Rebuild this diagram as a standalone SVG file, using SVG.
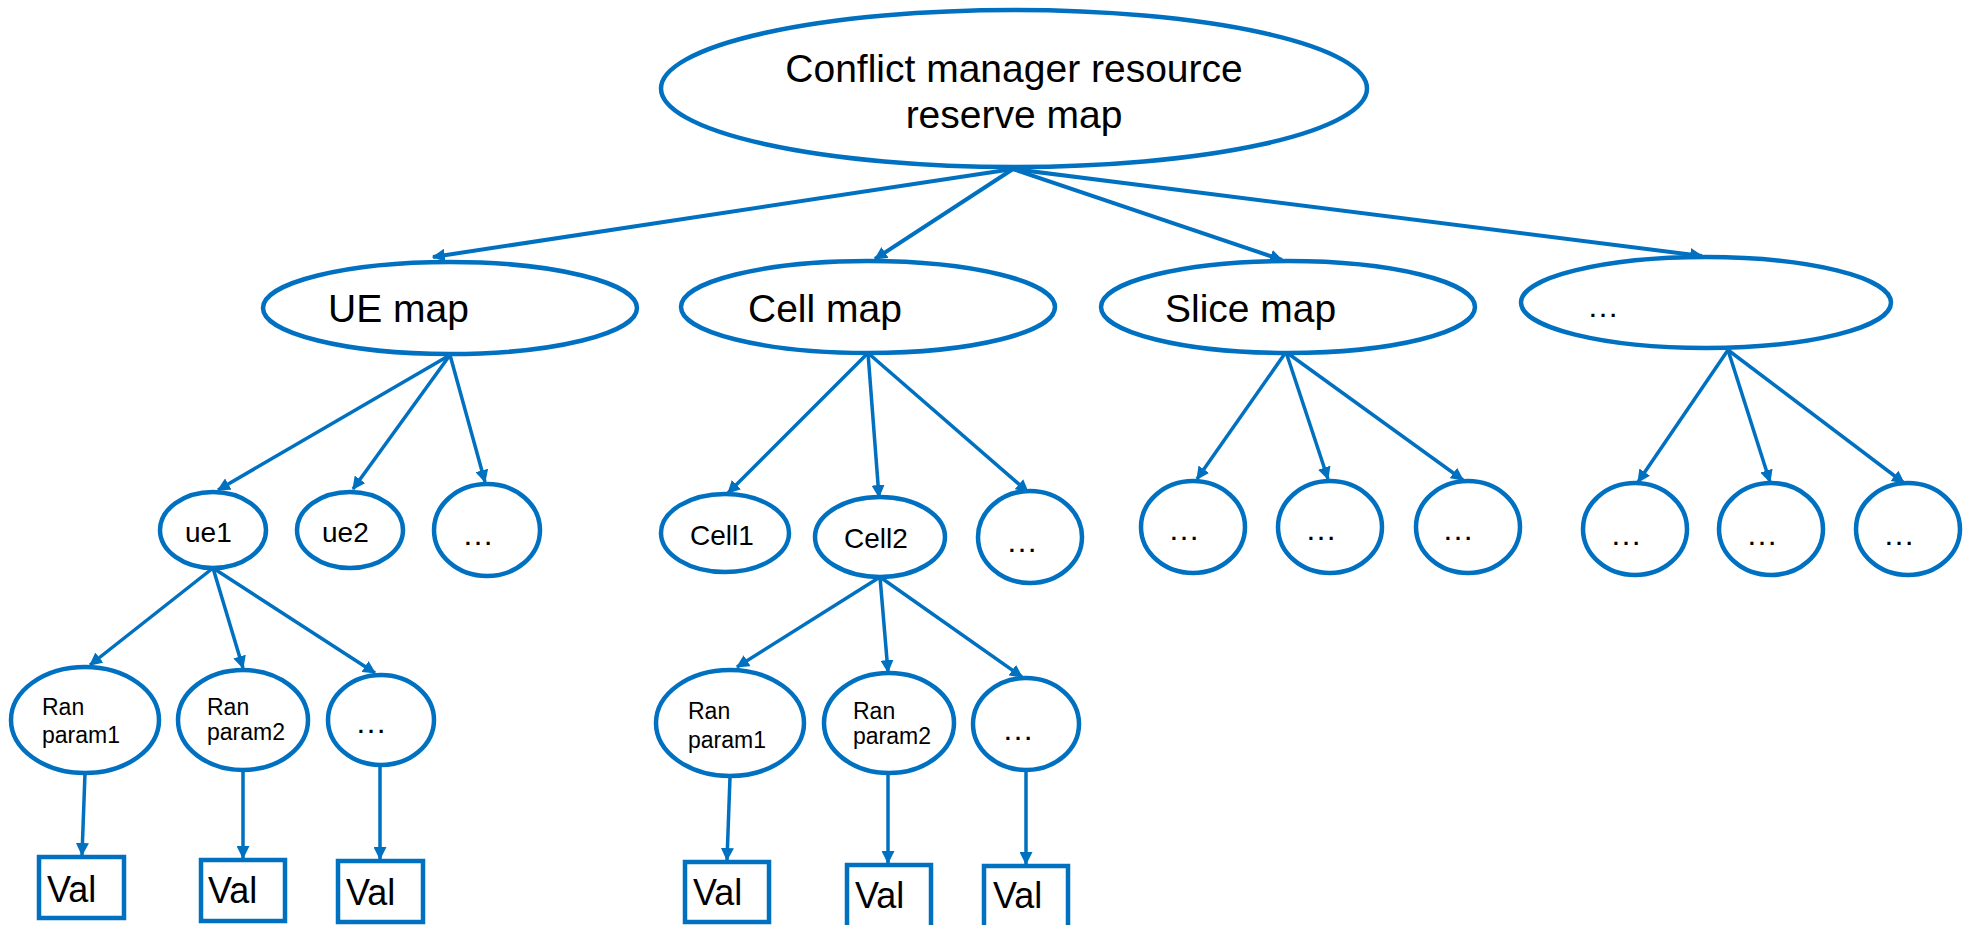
<svg xmlns="http://www.w3.org/2000/svg" width="1973" height="925" viewBox="0 0 1973 925">
<style>
.n{fill:#fff;stroke:#0070C0;stroke-width:4.5}
.b{fill:#fff;stroke:#0070C0;stroke-width:4.5}
.c line{stroke:#0070C0;stroke-width:3.5;marker-end:url(#ah)}
.c .t{stroke-width:4}
text{font-family:"Liberation Sans",Arial,sans-serif;fill:#000}
.f1{font-size:39px}
.f2{font-size:28px}
.f3{font-size:23px}
.fv{font-size:36px}
.fd{font-size:32px}
</style>
<defs>
<marker id="ah" viewBox="0 0 12 12" refX="11" refY="6" markerWidth="13" markerHeight="13" markerUnits="userSpaceOnUse" orient="auto">
<path d="M0,0 L12,6 L0,12 z" fill="#0070C0"/>
</marker>
</defs>
<rect width="1973" height="925" fill="#fff"/>
<g id="connectors" class="c">
<line class="t" x1="1013" y1="169" x2="433" y2="257"/>
<line class="t" x1="1013" y1="169" x2="875" y2="259"/>
<line class="t" x1="1013" y1="169" x2="1282" y2="260"/>
<line class="t" x1="1013" y1="169" x2="1702" y2="256"/>
<line x1="450" y1="355" x2="218" y2="490"/>
<line x1="450" y1="355" x2="353" y2="489"/>
<line x1="450" y1="355" x2="485" y2="482"/>
<line x1="868" y1="353" x2="728" y2="493"/>
<line x1="868" y1="353" x2="879" y2="497"/>
<line x1="868" y1="353" x2="1028" y2="492"/>
<line x1="1286" y1="352" x2="1197" y2="479"/>
<line x1="1286" y1="352" x2="1328" y2="479"/>
<line x1="1286" y1="352" x2="1463" y2="480"/>
<line x1="1728" y1="350" x2="1638" y2="482"/>
<line x1="1728" y1="350" x2="1770" y2="482"/>
<line x1="1728" y1="350" x2="1904" y2="483"/>
<line x1="213" y1="568" x2="90" y2="665"/>
<line x1="213" y1="568" x2="243" y2="668"/>
<line x1="213" y1="568" x2="375" y2="673"/>
<line x1="880" y1="577" x2="737" y2="667"/>
<line x1="880" y1="577" x2="888" y2="672"/>
<line x1="880" y1="577" x2="1022" y2="677"/>
<line x1="85" y1="773" x2="82" y2="855"/>
<line x1="243" y1="770" x2="243" y2="858"/>
<line x1="380" y1="765" x2="380" y2="859"/>
<line x1="730" y1="777" x2="727" y2="860"/>
<line x1="888" y1="773" x2="888" y2="863"/>
<line x1="1026" y1="770" x2="1026" y2="864"/>
</g>
<g id="root"><ellipse class="n" cx="1014" cy="88.5" rx="353" ry="78.5"/>
<text class="f1" x="1014" y="82" text-anchor="middle">Conflict manager resource</text>
<text class="f1" x="1014" y="128" text-anchor="middle">reserve map</text></g>
<g id="ue-map"><ellipse class="n" cx="450" cy="308" rx="187" ry="46"/><text class="f1" x="328" y="322">UE map</text></g>
<g id="cell-map"><ellipse class="n" cx="868" cy="307" rx="187" ry="46"/><text class="f1" x="748" y="322">Cell map</text></g>
<g id="slice-map"><ellipse class="n" cx="1288" cy="307" rx="187" ry="46"/><text class="f1" x="1165" y="322">Slice map</text></g>
<g id="other-map"><ellipse class="n" cx="1706" cy="302.5" rx="185" ry="45.5"/><text class="fd" x="1587" y="317">…</text></g>
<g id="ue1"><ellipse class="n" cx="213" cy="530" rx="53" ry="38"/><text class="f2" x="185" y="542">ue1</text></g>
<g id="ue2"><ellipse class="n" cx="350" cy="530" rx="53" ry="38"/><text class="f2" x="322" y="542">ue2</text></g>
<g id="ue-more"><ellipse class="n" cx="487" cy="530" rx="53" ry="46"/><text class="fd" x="462" y="545">…</text></g>
<g id="cell1"><ellipse class="n" cx="725" cy="533" rx="64" ry="39"/><text class="f2" x="690" y="545">Cell1</text></g>
<g id="cell2"><ellipse class="n" cx="880" cy="537" rx="65" ry="40"/><text class="f2" x="844" y="548">Cell2</text></g>
<g id="cell-more"><ellipse class="n" cx="1030" cy="537" rx="52" ry="46"/><text class="fd" x="1006" y="552">…</text></g>
<g id="slice-c1"><ellipse class="n" cx="1193" cy="527" rx="52" ry="46"/><text class="fd" x="1168" y="540">…</text></g>
<g id="slice-c2"><ellipse class="n" cx="1330" cy="527" rx="52" ry="46"/><text class="fd" x="1305" y="540">…</text></g>
<g id="slice-c3"><ellipse class="n" cx="1468" cy="527" rx="52" ry="46"/><text class="fd" x="1442" y="540">…</text></g>
<g id="other-c1"><ellipse class="n" cx="1635" cy="529" rx="52" ry="46"/><text class="fd" x="1610" y="545">…</text></g>
<g id="other-c2"><ellipse class="n" cx="1771" cy="529" rx="52" ry="46"/><text class="fd" x="1746" y="545">…</text></g>
<g id="other-c3"><ellipse class="n" cx="1908" cy="529" rx="52" ry="46"/><text class="fd" x="1883" y="545">…</text></g>
<g id="ue-ran1"><ellipse class="n" cx="85" cy="720" rx="74" ry="53"/><text class="f3" x="42" y="715">Ran</text><text class="f3" x="42" y="743">param1</text></g>
<g id="ue-ran2"><ellipse class="n" cx="243" cy="720" rx="65" ry="50"/><text class="f3" x="207" y="715">Ran</text><text class="f3" x="207" y="740">param2</text></g>
<g id="ue-ran-more"><ellipse class="n" cx="381" cy="720" rx="53" ry="45"/><text class="fd" x="355" y="733">…</text></g>
<g id="cell-ran1"><ellipse class="n" cx="730" cy="723" rx="74" ry="53"/><text class="f3" x="688" y="719">Ran</text><text class="f3" x="688" y="748">param1</text></g>
<g id="cell-ran2"><ellipse class="n" cx="889" cy="723" rx="65" ry="50"/><text class="f3" x="853" y="719">Ran</text><text class="f3" x="853" y="744">param2</text></g>
<g id="cell-ran-more"><ellipse class="n" cx="1026" cy="724" rx="53" ry="46"/><text class="fd" x="1002" y="740">…</text></g>
<g id="ue-val1"><rect class="b" x="39" y="857" width="85" height="61"/><text class="fv" x="47" y="902">Val</text></g>
<g id="ue-val2"><rect class="b" x="201" y="860" width="84" height="61"/><text class="fv" x="208" y="903">Val</text></g>
<g id="ue-val3"><rect class="b" x="338" y="861" width="85" height="61"/><text class="fv" x="346" y="905">Val</text></g>
<g id="cell-val1"><rect class="b" x="685" y="862" width="84" height="60"/><text class="fv" x="693" y="905">Val</text></g>
<g id="cell-val2"><rect class="b" x="847" y="865" width="84" height="63"/><text class="fv" x="855" y="908">Val</text></g>
<g id="cell-val3"><rect class="b" x="984" y="866" width="84" height="63"/><text class="fv" x="993" y="908">Val</text></g>
</svg>
